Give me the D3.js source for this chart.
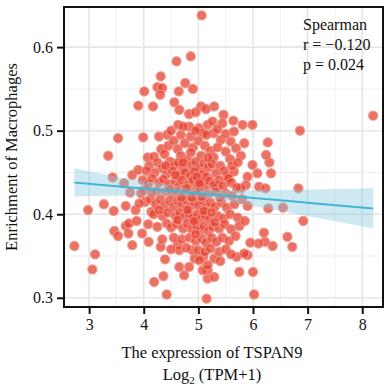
<!DOCTYPE html>
<html>
<head>
<meta charset="utf-8">
<script src="https://cdn.jsdelivr.net/npm/d3@7"></script>
<style>
  body { margin: 0; background: #fff; }
  svg text { font-family: "Liberation Serif", "DejaVu Serif", serif; fill: #111; }
</style>
</head>
<body>
<div id="chart"></div>
<script>
(function () {
	"use strict";

	var WIDTH = 390;
	var HEIGHT = 389;
	var PANEL = { left: 64, right: 383, top: 7, bottom: 307 };

	// TSPAN9 expression (log2 TPM+1) vs macrophage enrichment
	var samples = [
		[5.06,0.638],[4.86,0.589],[4.60,0.583],[4.31,0.565],[4.76,0.557],[4.25,0.552],[4.34,0.551],[4.90,0.550],
		[4.01,0.547],[4.64,0.547],[4.30,0.543],[4.56,0.534],[3.90,0.530],[4.17,0.529],[5.05,0.529],[5.29,0.529],
		[3.53,0.491],[3.99,0.492],[4.28,0.493],[4.43,0.495],[4.32,0.478],[3.35,0.470],[4.07,0.468],[4.19,0.469],
		[3.43,0.444],[3.64,0.437],[3.79,0.447],[3.90,0.453],[3.75,0.426],[4.01,0.429],[3.27,0.412],[3.67,0.410],
		[2.98,0.405],[3.45,0.404],[3.46,0.380],[3.53,0.374],[3.67,0.386],[3.73,0.389],[3.72,0.377],[3.87,0.392],
		[3.97,0.377],[3.79,0.363],[4.09,0.367],[2.73,0.362],[3.11,0.352],[3.06,0.334],[4.31,0.361],[4.34,0.370],
		[4.39,0.346],[4.36,0.326],[4.19,0.319],[4.42,0.304],[4.14,0.403],
		[5.15,0.299],[6.02,0.304],[5.75,0.331],[6.00,0.331],[4.74,0.327],[5.17,0.323],[5.29,0.325],[5.17,0.333],
		[5.08,0.333],[4.83,0.337],[4.65,0.337],[5.70,0.349],[5.90,0.351],[5.84,0.353],[6.36,0.362],[6.22,0.367],
		[6.10,0.365],[5.95,0.366],[6.20,0.378],[6.28,0.407],[6.55,0.408],[4.62,0.364],[4.65,0.357],[4.93,0.347],
		[4.89,0.357],[5.09,0.349],[5.29,0.347],[5.17,0.339],[6.92,0.392],[6.63,0.373],[6.72,0.361],[6.86,0.500],
		[8.20,0.518],[6.83,0.431],[6.30,0.462],
		[4.65,0.525],[4.83,0.520],[4.95,0.522],[5.14,0.526],[5.46,0.519],[5.64,0.512],[5.81,0.507],[5.99,0.507],
		[4.63,0.507],[4.83,0.505],[5.01,0.503],[5.17,0.507],[5.26,0.511],[5.44,0.509],[5.65,0.499],[4.68,0.495],
		[4.86,0.493],[5.08,0.497],[5.28,0.497],[5.41,0.489],[5.59,0.487],[5.84,0.485],[5.69,0.479],[6.27,0.486],
		[6.24,0.471],[5.99,0.459],[6.33,0.449],[6.08,0.449],[5.90,0.445],[5.87,0.435],[6.11,0.433],[6.23,0.431],
		[5.78,0.431],[5.53,0.445],[5.35,0.433],[5.65,0.451],
		[4.50,0.500],[4.72,0.505],[4.95,0.500],[5.15,0.495],[5.35,0.502],[5.50,0.496],
		[4.45,0.482],[4.55,0.488],[4.62,0.478],[4.75,0.485],[4.90,0.480],[5.00,0.488],[5.12,0.482],[5.22,0.476],
		[5.35,0.480],[5.50,0.475],[4.38,0.472],[4.68,0.470],[5.05,0.470],[5.28,0.468],[5.58,0.466],[5.78,0.470],
		[4.10,0.458],[4.25,0.462],[4.33,0.455],[4.48,0.463],[4.56,0.458],[4.63,0.462],[4.72,0.455],[4.80,0.465],
		[4.88,0.458],[4.95,0.463],[5.02,0.455],[5.10,0.461],[5.18,0.456],[5.25,0.460],[5.40,0.458],[5.47,0.452],
		[5.62,0.458],[5.72,0.462],[4.20,0.450],[4.42,0.448],[4.52,0.452],[4.66,0.447],[4.76,0.450],[4.85,0.446],
		[4.93,0.451],[5.08,0.448],[5.15,0.445],[5.32,0.449],[5.55,0.443],
		[3.98,0.441],[4.08,0.436],[4.15,0.443],[4.28,0.438],[4.36,0.442],[4.46,0.436],[4.58,0.440],[4.64,0.433],
		[4.70,0.441],[4.82,0.436],[4.90,0.441],[4.98,0.434],[5.05,0.440],[5.12,0.433],[5.20,0.440],[5.28,0.435],
		[5.38,0.441],[5.45,0.434],[5.60,0.438],[5.70,0.432],[4.24,0.428],[4.40,0.427],[4.52,0.425],[4.60,0.428],
		[4.74,0.426],[4.86,0.427],[4.95,0.424],[5.02,0.427],[5.18,0.424],[5.32,0.427],[5.50,0.425],[5.62,0.422],
		[4.03,0.415],[4.12,0.418],[4.22,0.412],[4.30,0.418],[4.38,0.410],[4.47,0.416],[4.55,0.409],[4.62,0.416],
		[4.70,0.411],[4.78,0.417],[4.85,0.409],[4.92,0.415],[5.00,0.410],[5.08,0.416],[5.15,0.408],[5.22,0.414],
		[5.30,0.409],[5.42,0.414],[5.52,0.408],[5.66,0.412],[5.80,0.418],[5.90,0.410],[4.18,0.400],[4.34,0.398],
		[4.44,0.402],[4.58,0.398],[4.66,0.402],[4.75,0.397],[4.82,0.401],[4.90,0.396],[4.98,0.400],[5.05,0.395],
		[5.12,0.399],[5.20,0.394],[5.35,0.398],[5.46,0.395],[5.58,0.400],[5.72,0.396],
		[4.08,0.388],[4.25,0.385],[4.42,0.389],[4.50,0.384],[4.60,0.388],[4.72,0.383],[4.80,0.389],[4.88,0.382],
		[4.96,0.387],[5.03,0.381],[5.10,0.386],[5.18,0.380],[5.26,0.385],[5.38,0.383],[5.48,0.388],[5.60,0.382],
		[5.75,0.386],[5.85,0.392],[4.55,0.372],[4.70,0.370],[4.84,0.372],[4.95,0.368],[5.06,0.371],[5.14,0.366],
		[5.24,0.372],[5.33,0.367],[5.44,0.372],[5.56,0.368],[5.68,0.374],
		[4.50,0.358],[4.78,0.360],[5.00,0.357],[5.12,0.355],[5.22,0.359],[5.38,0.355],[5.50,0.358],[5.60,0.352],
		[5.02,0.345],[5.40,0.344],
		[4.05,0.452],[3.95,0.425],[4.15,0.426],[3.85,0.405],[3.92,0.413],[4.28,0.405],
		[4.78,0.431],[4.88,0.420],[4.97,0.445],[5.06,0.421],[4.69,0.420],[5.10,0.404],[4.80,0.405],[4.92,0.392],
		[5.02,0.437],[4.58,0.447],[4.72,0.462],[5.18,0.468],[4.86,0.474],[4.62,0.393],[5.24,0.402],[4.95,0.376],
		[4.48,0.430],[5.40,0.420],[4.40,0.458],[5.30,0.390]
	];

	// fitted line and its confidence band
	var fitX = [2.73, 3.5, 4.25, 5.0, 5.75, 6.5, 7.25, 8.2];
	var fitY = [0.438, 0.4336, 0.4294, 0.4251, 0.4209, 0.4166, 0.4124, 0.407];
	var bandLow = [0.421, 0.422, 0.422, 0.420, 0.413, 0.404, 0.395, 0.383];
	var bandHigh = [0.455, 0.445, 0.437, 0.430, 0.429, 0.429, 0.430, 0.431];

	var xTicks = [3, 4, 5, 6, 7, 8];
	var xMinor = [3.5, 4.5, 5.5, 6.5, 7.5];
	var yTicks = [0.3, 0.4, 0.5, 0.6];
	var yMinor = [0.35, 0.45, 0.55];
	var statLines = ['Spearman', 'r = \u22120.120', 'p = 0.024'];

	var x = d3.scaleLinear().domain([2.54, 8.38]).range([PANEL.left, PANEL.right]);
	var y = d3.scaleLinear().domain([0.289, 0.648]).range([PANEL.bottom, PANEL.top]);

	var svg = d3.select('#chart').append('svg')
		.attr('width', WIDTH)
		.attr('height', HEIGHT);

	var panel = svg.append('g').attr('class', 'panel');

	panel.append('rect')
		.attr('x', PANEL.left)
		.attr('y', PANEL.top)
		.attr('width', PANEL.right - PANEL.left)
		.attr('height', PANEL.bottom - PANEL.top)
		.attr('fill', '#fff');

	// grid
	panel.selectAll('.grid-x-minor').data(xMinor).enter().append('line')
		.attr('x1', x).attr('x2', x)
		.attr('y1', PANEL.top).attr('y2', PANEL.bottom)
		.attr('stroke', '#efefef').attr('stroke-width', 1);
	panel.selectAll('.grid-y-minor').data(yMinor).enter().append('line')
		.attr('x1', PANEL.left).attr('x2', PANEL.right)
		.attr('y1', y).attr('y2', y)
		.attr('stroke', '#efefef').attr('stroke-width', 1);
	panel.selectAll('.grid-x').data(xTicks).enter().append('line')
		.attr('x1', x).attr('x2', x)
		.attr('y1', PANEL.top).attr('y2', PANEL.bottom)
		.attr('stroke', '#e6e6e6').attr('stroke-width', 1.6);
	panel.selectAll('.grid-y').data(yTicks).enter().append('line')
		.attr('x1', PANEL.left).attr('x2', PANEL.right)
		.attr('y1', y).attr('y2', y)
		.attr('stroke', '#e6e6e6').attr('stroke-width', 1.6);

	// points
	panel.selectAll('.point').data(samples).enter().append('circle')
		.attr('class', 'point')
		.attr('cx', function (d) { return x(d[0]); })
		.attr('cy', function (d) { return y(d[1]); })
		.attr('r', 4.6)
		.attr('fill', '#e6402f')
		.attr('fill-opacity', 0.74)
		.attr('stroke', '#f29385')
		.attr('stroke-opacity', 0.9)
		.attr('stroke-width', 1.2);

	// confidence band and fit
	var band = d3.area()
		.x(function (d, i) { return x(fitX[i]); })
		.y0(function (d, i) { return y(bandLow[i]); })
		.y1(function (d, i) { return y(bandHigh[i]); })
		.curve(d3.curveMonotoneX);
	panel.append('path')
		.attr('d', band(fitX))
		.attr('fill', '#86c8e2')
		.attr('fill-opacity', 0.4);

	var fit = d3.line()
		.x(function (d, i) { return x(fitX[i]); })
		.y(function (d, i) { return y(fitY[i]); });
	panel.append('path')
		.attr('d', fit(fitX))
		.attr('fill', 'none')
		.attr('stroke', '#3fb6d3')
		.attr('stroke-width', 2);

	// border
	svg.append('rect')
		.attr('x', PANEL.left)
		.attr('y', PANEL.top)
		.attr('width', PANEL.right - PANEL.left)
		.attr('height', PANEL.bottom - PANEL.top)
		.attr('fill', 'none')
		.attr('stroke', '#111')
		.attr('stroke-width', 2);

	// axes
	var xAxis = svg.append('g')
		.attr('transform', 'translate(0,' + PANEL.bottom + ')')
		.call(d3.axisBottom(x).tickValues(xTicks).tickSize(7).tickPadding(5).tickFormat(d3.format('d')));
	var yAxis = svg.append('g')
		.attr('transform', 'translate(' + PANEL.left + ',0)')
		.call(d3.axisLeft(y).tickValues(yTicks).tickSize(7).tickPadding(4).tickFormat(d3.format('.1f')));

	[xAxis, yAxis].forEach(function (axis) {
		axis.select('.domain').remove();
		axis.selectAll('line').attr('stroke', '#111').attr('stroke-width', 2);
		axis.selectAll('text')
			.attr('font-family', '"Liberation Serif", serif')
			.attr('font-size', 16)
			.attr('fill', '#222');
	});

	// titles
	svg.append('text')
		.attr('x', 212)
		.attr('y', 358)
		.attr('text-anchor', 'middle')
		.attr('font-size', 16.5)
		.text('The expression of TSPAN9');

	var logTitle = svg.append('text')
		.attr('x', 212)
		.attr('y', 380)
		.attr('text-anchor', 'middle')
		.attr('font-size', 16.5);
	logTitle.append('tspan').text('Log');
	logTitle.append('tspan').attr('font-size', 11).attr('dy', 4).text('2');
	logTitle.append('tspan').attr('dy', -4).text(' (TPM+1)');

	svg.append('text')
		.attr('transform', 'translate(17,' + 157 + ') rotate(-90)')
		.attr('text-anchor', 'middle')
		.attr('font-size', 16.5)
		.text('Enrichment of Macrophages');

	svg.append('g').selectAll('text').data(statLines).enter().append('text')
		.attr('x', 303)
		.attr('y', function (d, i) { return 30 + i * 20; })
		.attr('font-size', 16)
		.text(function (d) { return d; });
}());
</script>
</body>
</html>
